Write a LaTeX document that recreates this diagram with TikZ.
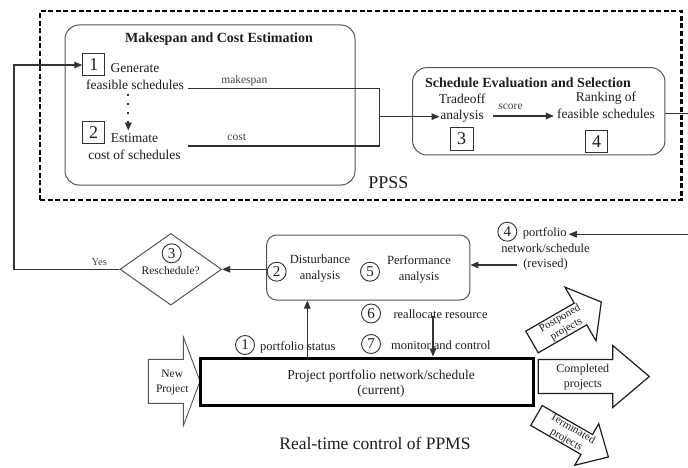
\documentclass[tikz,border=0pt]{standalone}
\usepackage{fontspec}
\setmainfont{Liberation Serif}
\usetikzlibrary{arrows.meta,shapes.geometric}
\definecolor{ink}{HTML}{1E1E1E}
\definecolor{ln}{HTML}{333333}
\definecolor{bx}{HTML}{555555}
\definecolor{lb}{HTML}{444444}
\newcommand{\fsz}[2]{\fontsize{#1}{#2}\selectfont}
\begin{document}
\begin{tikzpicture}[x=1pt,y=-1pt,
  arr/.style={-{Triangle[length=8pt,width=6.5pt]}},
  conn/.style={draw=ln, line width=1.1pt},
  rbox/.style={draw=bx, line width=1pt, rounded corners=14pt, inner sep=0},
  numsq/.style={draw=ln, line width=1pt, minimum size=22pt, inner sep=0, text=ink, font=\fsz{18}{20}},
  numci/.style={draw=ln, line width=0.9pt, circle, minimum size=19pt, inner sep=0, text=ink, font=\fsz{15}{17}},
  txt/.style={text=ink, align=center, inner sep=0, font=\fsz{13.5}{16.5}},
  ltxt/.style={text=ink, align=center, inner sep=0, font=\fsz{12.5}{16}},
  lbl/.style={text=lb, inner sep=0, font=\fsz{11.5}{13}},
  ttl/.style={font=\bfseries\fsz{14}{16}, inner sep=0, text=ink},
  blk/.style={draw=ink, line width=1.2pt, fill=white, line join=miter}]
\useasboundingbox (0,0) rectangle (688,468);
\clip (0,0) rectangle (688,468);

% ---------- PPSS ----------
\node[draw=black, line width=2.6pt, dash pattern=on 5pt off 2.6pt, minimum width=641.7pt, minimum height=189pt, inner sep=0] (ppss) at (360.8,105.5) {};
\node[font=\fsz{18}{20}, text=ink, inner sep=0] (ppsl) at (388.3,183) {PPSS};

% Makespan and cost estimation
\node[rbox, minimum width=290pt, minimum height=160pt] (mce) at (210,105) {};
\node[ttl] (mcet) at (219,39) {Makespan and Cost Estimation};
\node[numsq] (b1) at (93.8,65) {1};
\node[txt] (gen) at (135,76.5) {Generate\\feasible schedules};
\node[numsq] (b2) at (93.5,133) {2};
\node[txt] (est) at (134.5,146.5) {Estimate\\cost of schedules};
\coordinate (dx) at (128.3,0);
\draw[ln, line width=1.8pt, dash pattern=on 1.8pt off 7pt, arr] ([yshift=-5pt]gen.south -| dx) -- ([yshift=3pt]est.north -| dx);

\coordinate (mk) at (188,88.5);
\coordinate (ck) at (188,146);
\coordinate (jn) at (379.3,116.7);
\draw[conn] (mk) -- (mk -| jn) -- (ck -| jn) -- (ck);
\node[lbl] (lmk) at (244.3,81) {makespan};
\node[lbl] (lck) at (236.7,137.5) {cost};

% Schedule evaluation and selection
\node[rbox, minimum width=252.3pt, minimum height=87.3pt] (ses) at (538.8,111.3) {};
\node[ttl] (sest) at (528,82.7) {Schedule Evaluation and Selection};
\node[txt] (trade) at (462,108.3) {Tradeoff\\analysis};
\node[numsq, minimum size=23pt] (b3) at (461.7,138.8) {3};
\node[txt] (rank) at (606,105.3) {Ranking of\\feasible schedules};
\node[numsq] (b4) at (596.7,141.7) {4};
\draw[conn, arr] (jn) -- ([xshift=1pt]jn -| trade.west);
\coordinate (s1) at (493.3,116);
\draw[conn, arr] (s1) -- ([xshift=-3pt]s1 -| rank.west);
\node[lbl] (lsc) at (510.5,107.3) {score};
\coordinate (e1) at (690,113.3);
\draw[conn] (e1 -| ses.east) -- (e1);

% ---------- Real-time control ----------
\node[rbox, rounded corners=10pt, minimum width=203.3pt, minimum height=65pt] (dist) at (368.3,267.5) {};
\node[numci] (c2) at (276.7,271.7) {2};
\node[ltxt] (dis) at (320,268.5) {Disturbance\\analysis};
\node[numci] (c5) at (370,271.7) {5};
\node[ltxt] (perf) at (419,269) {Performance\\analysis};

\node[diamond, draw=bx, line width=1pt, minimum width=101.7pt, minimum height=71.7pt, inner sep=0] (dia) at (170.8,269.3) {};
\node[numci] (c3) at (171.7,253.3) {3};
\node[ltxt, font=\fsz{11.5}{13}] (rs) at (170.7,271) {Reschedule?};
\draw[conn, arr] (dist.west |- dia.east) -- (dia.east);
\draw[conn, arr] (dia.west) -- ++(-105.5,0) |- (b1.west);
\node[lbl, font=\fsz{10.5}{12}] (lyes) at (99.3,261.7) {Yes};

\node[numci] (c4) at (507.3,231.7) {4};
\node[ltxt] (pf) at (544.7,233.3) {portfolio};
\node[ltxt, font=\fsz{12.5}{15.5}] (nw) at (545.5,257) {network/schedule\\(revised)};
\coordinate (e2) at (690,234.3);
\draw[conn, arr] (e2) -- ([xshift=2pt]e2 -| pf.east);
\coordinate (rv) at (516.7,265);
\draw[conn, arr] (rv) -- (rv -| dist.east);

% New project arrow
\begin{scope}[shift={(148.3,381.3)}]
\draw[draw=bx, line width=0.9pt, fill=white, line join=miter] (0,-22) -- (35,-22) -- (35,-44.5) -- (51.7,0) -- (35,44.5) -- (35,22) -- (0,22) -- cycle;
\node[ltxt, font=\fsz{11.5}{15}] (np) at (24,1) {New\\Project};
\end{scope}

% Project portfolio box
\node[draw=black, line width=3pt, minimum width=333pt, minimum height=47pt, inner sep=0] (big) at (366.5,381.5) {};
\node[txt, font=\fsz{13.5}{15}] (bigt) at (381,384) {Project portfolio network/schedule\\(current)};

\node[numci] (c1) at (245,345) {1};
\node[ltxt, anchor=west] (ps) at (260,347.5) {portfolio status};
\coordinate (psx) at (307.3,330);
\draw[conn, arr] (psx |- big.north) -- (psx |- dist.south);

\node[numci] (c6) at (371,313.5) {6};
\node[ltxt, anchor=west] (ra) at (393.3,314) {reallocate resource};
\node[numci] (c7) at (371,344) {7};
\node[ltxt, anchor=west] (mc) at (391,345) {monitor and control};
\coordinate (rax) at (433,316);
\draw[conn, arr] (rax) -- (rax |- big.north);

% Completed
\begin{scope}[shift={(538.3,376.5)}]
\draw[blk] (0,-17) -- (74.4,-17) -- (74.4,-31) -- (111,0) -- (74.4,31) -- (74.4,17) -- (0,17) -- cycle;
\node[ltxt, font=\fsz{12}{15}] (cp) at (44.5,1) {Completed\\projects};
\end{scope}

% Postponed
\begin{scope}[shift={(532,342)}, rotate=30]
\draw[blk] (0,-12.5) -- (56,-12.5) -- (56,-31) -- (80,0) -- (56,31) -- (56,12.5) -- (0,12.5) -- cycle;
\node[ltxt, font=\fsz{11}{12.5}, transform shape] (pp) at (36,0) {Postponed\\projects};
\end{scope}

% Terminated
\begin{scope}[shift={(536.5,415.5)}, rotate=-30]
\draw[blk] (0,-11.5) -- (58,-11.5) -- (58,-24) -- (83,0) -- (58,24) -- (58,11.5) -- (0,11.5) -- cycle;
\node[ltxt, font=\fsz{11}{12.5}, transform shape] (tp) at (38,0) {Terminated\\projects};
\end{scope}

\node[font=\fsz{17.5}{20}, text=ink, inner sep=0] (rt) at (375,443) {Real-time control of PPMS};
\end{tikzpicture}
\end{document}
